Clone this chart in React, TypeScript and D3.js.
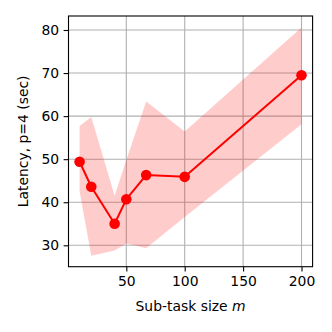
import React, { useRef, useEffect } from "react";
import * as d3 from "d3";

const sizes = [10, 20, 40, 50, 67, 100, 200];
const latency = [49.4, 43.6, 35.0, 40.7, 46.3, 45.9, 69.5];
const lower = [42.5, 27.6, 28.8, 30.4, 29.3, 36.6, 58.1];
const upper = [57.7, 59.8, 41.5, 49.8, 63.4, 56.4, 80.6];
const xTicks = [50, 100, 150, 200];
const yTicks = [30, 40, 50, 60, 70, 80];

export default function App() {
  const ref = useRef<SVGSVGElement>(null);

  useEffect(() => {
    const svg = d3.select(ref.current);
    svg.selectAll("*").remove();
    const margin = { top: 16, right: 19.4, bottom: 65.3, left: 68.5 };
    const width = 332 - margin.left - margin.right;
    const height = 332 - margin.top - margin.bottom;
    const font = "DejaVu Sans, sans-serif";

    const g = svg.append("g").attr("transform", `translate(${margin.left},${margin.top})`);

    const x = d3.scaleLinear().domain([0.5, 209.5]).range([0, width]);
    const y = d3.scaleLinear().domain([25.03, 83.25]).range([height, 0]);

    // grid
    g.selectAll(".gx").data(xTicks).enter().append("line")
      .attr("x1", d => x(d)).attr("x2", d => x(d)).attr("y1", 0).attr("y2", height)
      .attr("stroke", "#b0b0b0").attr("stroke-width", 1.1);
    g.selectAll(".gy").data(yTicks).enter().append("line")
      .attr("y1", d => y(d)).attr("y2", d => y(d)).attr("x1", 0).attr("x2", width)
      .attr("stroke", "#b0b0b0").attr("stroke-width", 1.1);

    const idx = d3.range(sizes.length);

    // band
    g.append("path")
      .datum(idx)
      .attr("fill", "red").attr("fill-opacity", 0.2)
      .attr("d", d3.area<number>().x(i => x(sizes[i])).y0(i => y(lower[i])).y1(i => y(upper[i])));

    // line
    g.append("path")
      .datum(idx)
      .attr("fill", "none").attr("stroke", "red").attr("stroke-width", 2)
      .attr("d", d3.line<number>().x(i => x(sizes[i])).y(i => y(latency[i])));

    g.selectAll(".pt").data(idx).enter().append("circle")
      .attr("cx", i => x(sizes[i])).attr("cy", i => y(latency[i])).attr("r", 5.3)
      .attr("fill", "red");

    // axes
    const xa = g.append("g").attr("transform", `translate(0,${height})`)
      .call(d3.axisBottom(x).tickValues(xTicks).tickSize(4.9).tickPadding(4.4));
    const ya = g.append("g")
      .call(d3.axisLeft(y).tickValues(yTicks).tickSize(4.9).tickPadding(4.4));
    [xa, ya].forEach(a => {
      a.select(".domain").remove();
      a.selectAll("line").attr("stroke", "black").attr("stroke-width", 1.1);
      a.selectAll("text").attr("font-family", font).attr("font-size", 13.9).attr("fill", "black");
    });

    g.append("rect").attr("width", width).attr("height", height)
      .attr("fill", "none").attr("stroke", "black").attr("stroke-width", 1.1);

    // labels
    const xl = g.append("text")
      .attr("x", width / 2).attr("y", height + 44)
      .attr("text-anchor", "middle")
      .attr("font-family", font).attr("font-size", 13.9);
    xl.append("tspan").text("Sub-task size ");
    xl.append("tspan").attr("font-style", "italic").text("m");

    g.append("text")
      .attr("transform", `translate(${-40.7},${height / 2}) rotate(-90)`)
      .attr("text-anchor", "middle")
      .attr("font-family", font).attr("font-size", 13.9)
      .text("Latency, p=4 (sec)");
  }, []);

  return (
    <svg ref={ref} width={332} height={332}
      style={{ position: "absolute", left: 0, top: 0, background: "white" }} />
  );
}
